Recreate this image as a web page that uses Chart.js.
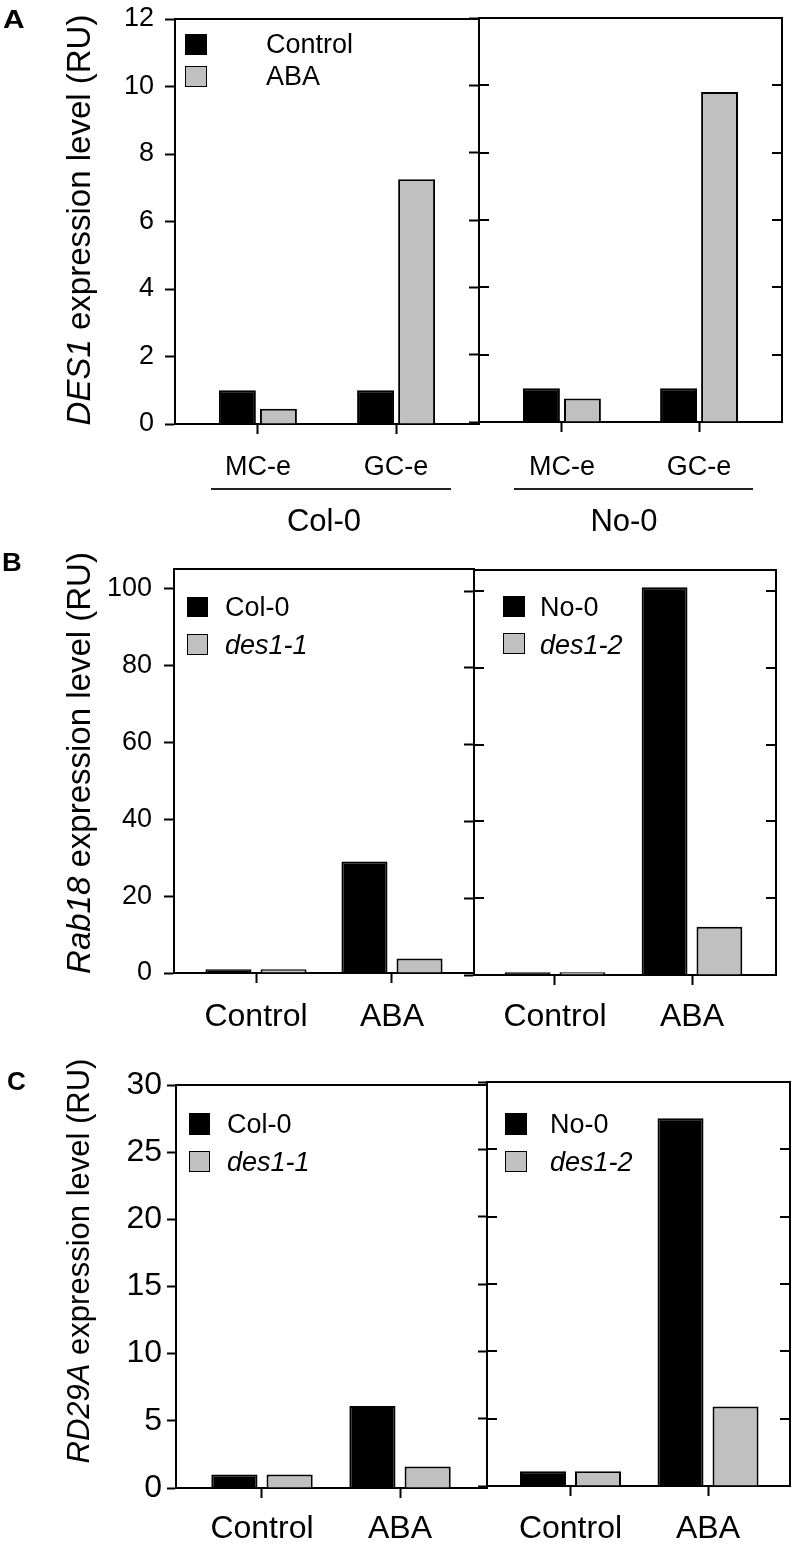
<!DOCTYPE html>
<html><head><meta charset="utf-8">
<script src="https://cdn.jsdelivr.net/npm/chart.js@4.4.1/dist/chart.umd.min.js"></script>
<style>
html,body{margin:0;padding:0;background:#fff;}
#wrap{position:relative;width:793px;height:1546px;overflow:hidden;font-family:"Liberation Sans",Arial,sans-serif;color:#000;background:#fff;}
#wrap canvas{position:absolute;}
.t{position:absolute;white-space:nowrap;line-height:1;}
.sq{position:absolute;box-sizing:border-box;border:1.5px solid #000;}
.ln{position:absolute;height:2px;background:#222;}
.rot{position:absolute;white-space:nowrap;line-height:1;transform:translate(-50%,-50%) rotate(-90deg);}
.pl{position:absolute;white-space:nowrap;line-height:1;font-weight:bold;font-size:26px;transform-origin:0 0;}
</style></head><body><div id="wrap"></div>
<script>
// ---------- data ----------
const catA = ['MC-e', 'GC-e'];
const catBC = ['Control', 'ABA'];

const des1Col0Control = [1.0, 1.0];
const des1Col0ABA     = [0.45, 7.25];
const des1No0Control  = [1.0, 1.0];
const des1No0ABA      = [0.7, 9.8];

const rab18Col0  = [1.0, 29.0];
const rab18Des11 = [1.0, 3.8];
const rab18No0   = [0.7, 101.0];
const rab18Des12 = [0.7, 12.6];

const rd29aCol0  = [1.0, 6.1];
const rd29aDes11 = [1.0, 1.6];
const rd29aNo0   = [1.1, 27.3];
const rd29aDes12 = [1.1, 5.9];

// ---------- drawing ----------
const FF = '"Liberation Sans", Arial, sans-serif';
const BLACK = '#000000', GRAY = '#c0c0c0';
Chart.defaults.font.family = FF;
Chart.defaults.color = '#000';
const wrap = document.getElementById('wrap');

const framePlugin = {
  id: 'frame',
  afterDraw(chart, args, opts) {
    const ctx = chart.ctx;
    const {left, right, top, bottom} = chart.chartArea;
    const ys = chart.scales.y;
    ctx.save();
    ctx.strokeStyle = '#000';
    ctx.lineWidth = 2;
    ctx.beginPath();
    ctx.moveTo(left - 1, top); ctx.lineTo(right + 1, top);
    ctx.stroke();
    if (opts.boxRight) {
      ctx.beginPath();
      ctx.moveTo(right, top - 1); ctx.lineTo(right, bottom + 1);
      ys.ticks.forEach(t => {
        const y = Math.round(ys.getPixelForValue(t.value));
        ctx.moveTo(right - 10, y); ctx.lineTo(right, y);
        ctx.moveTo(left, y); ctx.lineTo(left + 10, y);
      });
      ctx.stroke();
    }
    ctx.restore();
  }
};

function makeChart(o) {
  const padTop = 40, axisH = 80, yw = o.left ? o.L : 20;
  const cl = o.left ? 0 : o.L - 20;
  const ct = o.T - padTop;
  const cw = o.R + 6 - cl;
  const ch = o.B + axisH - ct;
  const cv = document.createElement('canvas');
  cv.width = cw; cv.height = ch;
  cv.style.left = cl + 'px'; cv.style.top = ct + 'px';
  cv.style.width = cw + 'px'; cv.style.height = ch + 'px';
  wrap.appendChild(cv);
  new Chart(cv, {
    type: 'bar',
    data: {
      datasets: o.series.map(s => ({
        label: s.label,
        data: s.data.map((v, i) => ({x: i, y: v})),
        backgroundColor: s.color,
        borderColor: '#000',
        borderWidth: 2,
        borderSkipped: 'start',
        barPercentage: o.barPct,
        categoryPercentage: o.catPct
      }))
    },
    options: {
      responsive: false,
      animation: false,
      devicePixelRatio: 1,
      layout: {padding: {top: padTop, right: 6, left: 0, bottom: 0}},
      plugins: {legend: {display: false}, tooltip: {enabled: false}, frame: {boxRight: !o.left}},
      scales: {
        x: {
          type: 'linear', min: o.xmin, max: o.xmax, offset: false,
          ticks: {stepSize: 1, includeBounds: false, autoSkip: false, maxRotation: 0, minRotation: 0,
                  padding: o.xPad, color: '#000', font: {family: FF, size: o.xFont},
                  callback: v => (o.cats[Math.round(v)] ?? '')},
          grid: {display: true, offset: false, drawOnChartArea: false, drawTicks: true, tickLength: 10,
                 tickWidth: 2, tickColor: '#000', color: '#000'},
          border: {display: true, color: '#000', width: 2},
          afterFit: s => { s.height = axisH; }
        },
        y: {
          type: 'linear', min: 0, max: o.ymax,
          ticks: {stepSize: o.ystep, includeBounds: false, display: o.left, padding: o.yPad,
                  color: '#000', font: {family: FF, size: o.yFont}},
          grid: {display: true, drawOnChartArea: false, drawTicks: true, tickLength: o.yTick,
                 tickWidth: 2, tickColor: '#000', color: '#000'},
          border: {display: true, color: '#000', width: 2},
          afterFit: s => { s.width = yw; }
        }
      }
    },
    plugins: [framePlugin]
  });
}

// Panel A
makeChart({left: true, L: 175, R: 479, T: 19, B: 424, xmin: -0.6, xmax: 1.6, ymax: 12, ystep: 2,
  cats: catA, catPct: 0.594, barPct: 0.9, xFont: 27, yFont: 27, xPad: 17, yPad: 11, yTick: 10,
  series: [{label: 'Control', data: des1Col0Control, color: BLACK}, {label: 'ABA', data: des1Col0ABA, color: GRAY}]});
makeChart({left: false, L: 479, R: 782, T: 18, B: 422, xmin: -0.605, xmax: 1.605, ymax: 12, ystep: 2,
  cats: catA, catPct: 0.598, barPct: 0.9, xFont: 27, yFont: 27, xPad: 19, yPad: 11, yTick: 10,
  series: [{label: 'Control', data: des1No0Control, color: BLACK}, {label: 'ABA', data: des1No0ABA, color: GRAY}]});

// Panel B
makeChart({left: true, L: 174, R: 474, T: 569, B: 973, xmin: -0.603, xmax: 1.603, ymax: 105, ystep: 20,
  cats: catBC, catPct: 0.81, barPct: 0.836, xFont: 32, yFont: 27, xPad: 15, yPad: 12, yTick: 10,
  series: [{label: 'Col-0', data: rab18Col0, color: BLACK}, {label: 'des1-1', data: rab18Des11, color: GRAY}]});
makeChart({left: false, L: 474, R: 776, T: 570, B: 975, xmin: -0.591, xmax: 1.613, ymax: 105.5, ystep: 20,
  cats: catBC, catPct: 0.80, barPct: 0.836, xFont: 32, yFont: 27, xPad: 13, yPad: 12, yTick: 10,
  series: [{label: 'No-0', data: rab18No0, color: BLACK}, {label: 'des1-2', data: rab18Des12, color: GRAY}]});

// Panel C
makeChart({left: true, L: 176, R: 487, T: 1085, B: 1488, xmin: -0.623, xmax: 1.63, ymax: 30, ystep: 5,
  cats: catBC, catPct: 0.80, barPct: 0.836, xFont: 32, yFont: 32, xPad: 12, yPad: 5, yTick: 9,
  series: [{label: 'Col-0', data: rd29aCol0, color: BLACK}, {label: 'des1-1', data: rd29aDes11, color: GRAY}]});
makeChart({left: false, L: 487, R: 790, T: 1082, B: 1486, xmin: -0.607, xmax: 1.596, ymax: 30, ystep: 5,
  cats: catBC, catPct: 0.80, barPct: 0.836, xFont: 32, yFont: 32, xPad: 14, yPad: 5, yTick: 9,
  series: [{label: 'No-0', data: rd29aNo0, color: BLACK}, {label: 'des1-2', data: rd29aDes12, color: GRAY}]});

// ---------- text overlays ----------
function txt(html, x, cy, size) {
  const d = document.createElement('div');
  d.className = 't';
  d.innerHTML = html;
  d.style.fontSize = size + 'px';
  d.style.left = x + 'px';
  d.style.top = (cy - 0.49 * size) + 'px';
  wrap.appendChild(d);
  return d;
}
function ctxt(html, cx, cy, size) {
  const d = txt(html, cx, cy, size);
  d.style.transform = 'translateX(-50%)';
  return d;
}
function sq(x, y, w, h, fill) {
  const d = document.createElement('div');
  d.className = 'sq';
  Object.assign(d.style, {left: x + 'px', top: y + 'px', width: w + 'px', height: h + 'px', background: fill});
  wrap.appendChild(d);
}
function line(x1, x2, y) {
  const d = document.createElement('div');
  d.className = 'ln';
  Object.assign(d.style, {left: x1 + 'px', top: (y - 1) + 'px', width: (x2 - x1) + 'px'});
  wrap.appendChild(d);
}
function rot(html, cx, cy, size) {
  const d = document.createElement('div');
  d.className = 'rot';
  d.innerHTML = html;
  Object.assign(d.style, {left: cx + 'px', top: cy + 'px', fontSize: size + 'px'});
  wrap.appendChild(d);
}
function letter(ch, x, capTop, sx) {
  const d = document.createElement('div');
  d.className = 'pl';
  d.textContent = ch;
  // line-height 1 at 26px: cap top sits ~3.4px below the box top
  Object.assign(d.style, {left: x + 'px', top: (capTop - 3.4) + 'px', transform: 'scaleX(' + sx + ')'});
  wrap.appendChild(d);
}

// panel letters
letter('A', 3, 9, 1.15);
letter('B', 2, 552, 1.05);
letter('C', 7, 1071, 1.0);

// y titles
rot('<i>DES1</i> expression level (RU)', 78, 220, 33);
rot('<i>Rab18</i> expression level (RU)', 78, 763, 33);
rot('<i>RD29A</i> expression level (RU)', 78, 1261, 31);

// panel A group labels
line(211, 451, 489);
line(514, 753, 489);
ctxt('Col-0', 324, 520, 31);
ctxt('No-0', 624, 520, 31);

// legends
sq(185, 34, 22, 21, BLACK); sq(185, 66, 22, 21, GRAY);
txt('Control', 266, 44.5, 27); txt('ABA', 266, 76.5, 27);

sq(187, 597, 21, 20, BLACK); sq(187, 634, 21, 21, GRAY);
txt('Col-0', 225, 607, 27); txt('<i>des1-1</i>', 225, 645, 27);
sq(503, 596, 22, 21, BLACK); sq(503, 633, 22, 21, GRAY);
txt('No-0', 540, 607, 27); txt('<i>des1-2</i>', 540, 645, 27);

sq(189, 1113, 21, 22, BLACK); sq(189, 1151, 21, 21, GRAY);
txt('Col-0', 227, 1124, 27); txt('<i>des1-1</i>', 227, 1162, 27);
sq(505, 1113, 22, 22, BLACK); sq(505, 1151, 22, 21, GRAY);
txt('No-0', 550, 1124, 27); txt('<i>des1-2</i>', 550, 1162, 27);
</script>
</body></html>
